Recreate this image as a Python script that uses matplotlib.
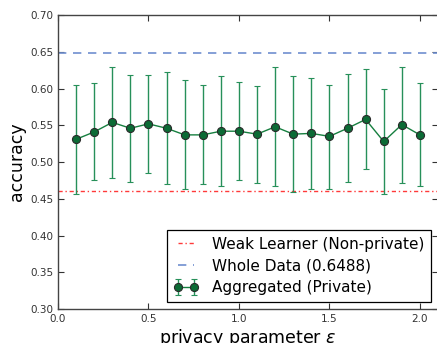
import matplotlib
matplotlib.use("Agg")
import matplotlib.pyplot as plt
import numpy as np

eps = [0.1, 0.2, 0.3, 0.4, 0.5, 0.6, 0.7, 0.8, 0.9, 1.0,
       1.1, 1.2, 1.3, 1.4, 1.5, 1.6, 1.7, 1.8, 1.9, 2.0]
acc_mean = [0.531, 0.541, 0.554, 0.546, 0.552, 0.546, 0.537, 0.537, 0.542, 0.542,
            0.538, 0.548, 0.538, 0.539, 0.535, 0.546, 0.558, 0.528, 0.551, 0.537]
acc_upper = [0.605, 0.607, 0.630, 0.619, 0.619, 0.622, 0.611, 0.605, 0.617, 0.609,
             0.604, 0.630, 0.617, 0.615, 0.605, 0.620, 0.627, 0.600, 0.630, 0.608]
acc_lower = [0.457, 0.476, 0.478, 0.473, 0.485, 0.470, 0.463, 0.470, 0.467, 0.476,
             0.471, 0.467, 0.459, 0.463, 0.464, 0.473, 0.490, 0.456, 0.472, 0.467]
weak_acc = 0.46
whole_acc = 0.6488

mean = np.array(acc_mean)
yerr = [mean - np.array(acc_lower), np.array(acc_upper) - mean]

fig = plt.figure(figsize=(4.37, 3.43), dpi=100)
ax = fig.add_axes([0.1327, 0.099, 0.8696, 0.857])

green = "#167f3f"
ax.axhline(weak_acc, color="#ff3a3a", linestyle=(0, (3, 2, 1, 2)), linewidth=1.0,
           label="Weak Learner (Non-private)")
ax.axhline(whole_acc, color="#6f8fd0", linestyle=(0, (5, 4)), linewidth=1.2,
           label="Whole Data (0.6488)")
ax.errorbar(eps, mean, yerr=yerr, color=green, ecolor="#27905a", elinewidth=1.0,
            capsize=2.2, capthick=1.0, marker="o", markersize=5.8,
            markerfacecolor="#0b6b35", markeredgecolor="#2a2a2a", markeredgewidth=0.8,
            linewidth=1.0, label="Aggregated (Private)")

ax.set_xlim(0, 2.1)
ax.set_ylim(0.30, 0.70)
ax.set_xticks([0.0, 0.5, 1.0, 1.5, 2.0])
ax.set_yticks(np.arange(0.30, 0.701, 0.05))
ax.tick_params(direction="in", top=True, right=True, labelsize=7.5,
               labelcolor="#333333", color="#333333", length=4)
for s in ax.spines.values():
    s.set_color("#444444")
    s.set_linewidth(1.0)

ax.set_xlabel(r"privacy parameter $\varepsilon$", fontsize=12.5, labelpad=2)
ax.set_ylabel("accuracy", fontsize=12.5, labelpad=3)

leg = ax.legend(loc="lower right", fontsize=11, fancybox=False, framealpha=1,
                edgecolor="black", borderaxespad=0.45, handlelength=1.6,
                handletextpad=0.9, labelspacing=0.45, numpoints=2,
                borderpad=0.45)
leg.get_frame().set_linewidth(0.9)

fig.savefig("out.png", dpi=100)
